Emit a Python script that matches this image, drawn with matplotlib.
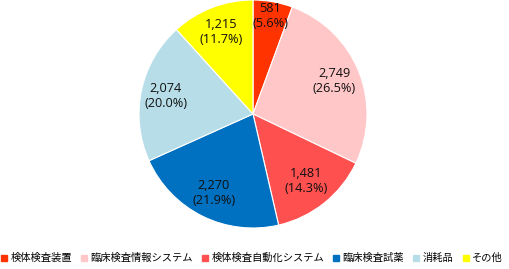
import matplotlib
matplotlib.use("Agg")
import matplotlib.pyplot as plt
import numpy as np
from matplotlib.lines import Line2D

plt.rcParams['font.family'] = ['Noto Sans CJK JP', 'DejaVu Sans']

categories = ['検体検査装置', '臨床検査情報システム', '検体検査自動化システム', '臨床検査試薬', '消耗品', 'その他']
values = [581, 2749, 1481, 2270, 2074, 1215]
colors = ['#FF3300', '#FFC7C7', '#FF5050', '#0070C0', '#B7DEE8', '#FFFF00']
label_r = [0.87, 0.77, 0.75, 0.77, 0.78, 0.77]

fig = plt.figure(figsize=(5.09, 2.69), dpi=100)
ax = fig.add_axes([139/509, (269-228)/269, 228/509, 228/269])
wedges, _ = ax.pie(values, colors=colors, startangle=90, counterclock=False,
                   wedgeprops=dict(linewidth=0.8, edgecolor='white'))
total = sum(values)
for w, v, r in zip(wedges, values, label_r):
    ang = np.deg2rad((w.theta1 + w.theta2) / 2)
    x, y = r * np.cos(ang), r * np.sin(ang)
    ax.text(x, y, f"{v:,}\n({v/total*100:.1f}%)", ha='center', va='center',
            fontsize=9.2, family=['Open Sans', 'DejaVu Sans'], linespacing=1.2, color='#111111')
ax.set_xlim(-1, 1); ax.set_ylim(-1, 1)
ax.set_aspect('equal')

handles = [Line2D([0], [0], marker='s', linestyle='', markersize=5, markerfacecolor=c, markeredgecolor=c) for c in colors]
fig.legend(handles, categories, loc='lower left', bbox_to_anchor=(-0.012, -0.005), ncol=6, frameon=False,
           fontsize=7.4, handlelength=0.6, handletextpad=0.3, columnspacing=0.9, borderpad=0.2)
fig.savefig('out.png', dpi=100)
